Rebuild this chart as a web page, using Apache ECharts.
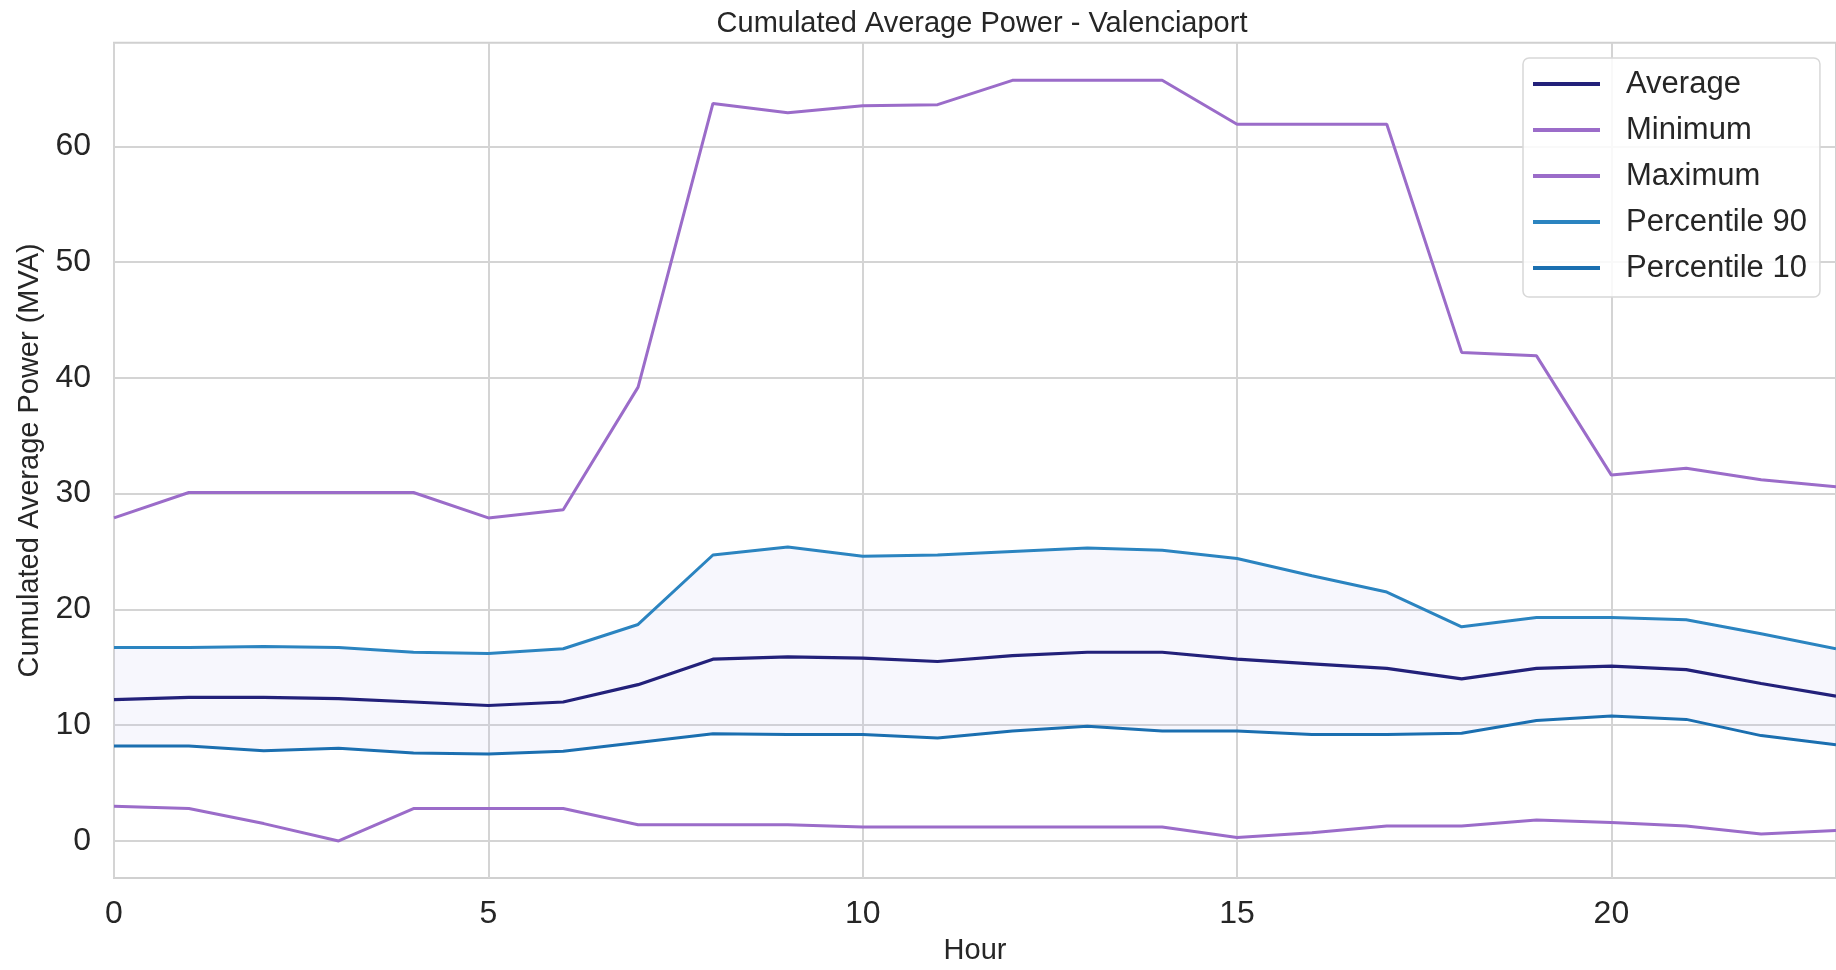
<!DOCTYPE html>
<html>
<head>
<meta charset="utf-8">
<script src="https://cdn.jsdelivr.net/npm/echarts@6/dist/echarts.min.js"></script>
<style>html,body{margin:0;padding:0;background:#fff}#c{width:1836px;height:970px}</style>
</head>
<body>
<div id="c"></div>
<script>
const hours = ['0','1','2','3','4','5','6','7','8','9','10','11','12','13','14','15','16','17','18','19','20','21','22','23'];
const average = [12.2,12.4,12.4,12.3,12.0,11.7,12.0,13.5,15.7,15.9,15.8,15.5,16.0,16.3,16.3,15.7,15.3,14.9,14.0,14.9,15.1,14.8,13.6,12.5];
const maximum = [27.9,30.1,30.1,30.1,30.1,27.9,28.6,39.2,63.7,62.9,63.5,63.6,65.7,65.7,65.7,61.9,61.9,61.9,42.2,41.9,31.6,32.2,31.2,30.6];
const minimum = [3.0,2.8,1.5,0.0,2.8,2.8,2.8,1.4,1.4,1.4,1.2,1.2,1.2,1.2,1.2,0.3,0.7,1.3,1.3,1.8,1.6,1.3,0.6,0.9];
const p90 = [16.7,16.7,16.8,16.7,16.3,16.2,16.6,18.7,24.7,25.4,24.6,24.7,25.0,25.3,25.1,24.4,22.9,21.5,18.5,19.3,19.3,19.1,17.9,16.6];
const p10 = [8.2,8.2,7.8,8.0,7.6,7.5,7.75,8.5,9.25,9.2,9.2,8.9,9.5,9.9,9.5,9.5,9.2,9.2,9.3,10.4,10.8,10.5,9.1,8.3];
const yTicks = [0,10,20,30,40,50,60];
const xTickEvery = 5;

const FONT = 'Liberation Sans, Arial, sans-serif';
const band = p90.map((v,i)=>+(v - p10[i]).toFixed(3));

const chart = echarts.init(document.getElementById('c'), null, {renderer:'canvas'});
chart.setOption({
  animation: false,
  backgroundColor: '#ffffff',
  textStyle: {fontFamily: FONT},
  title: {
    text: 'Cumulated Average Power - Valenciaport',
    left: 977, top: 4, textAlign: 'center',
    textStyle: {fontFamily: FONT, fontSize: 29, fontWeight: 'normal', color: '#262626'}
  },
  grid: {left: 114, right: -2, top: 42.7, bottom: 970-882.7, show: true, borderColor: '#d0d0d0', borderWidth: 2, backgroundColor: 'transparent'},
  legend: {
    orient: 'vertical', left: 1523, top: 58,
    data: ['Average','Minimum','Maximum','Percentile 90','Percentile 10'],
    icon: 'rect',
    itemWidth: 67, itemHeight: 4, itemGap: 10,
    padding: [8, 13, 11, 10],
    backgroundColor: 'rgba(255,255,255,0.85)', borderColor: '#d8d8d8', borderWidth: 1.5, borderRadius: 6,
    textStyle: {fontFamily: FONT, fontSize: 31, color: '#262626', lineHeight: 36, padding: [0,0,0,21]}
  },
  xAxis: {
    type: 'category', data: hours, boundaryGap: false,
    name: 'Hour', nameLocation: 'middle', nameGap: 58,
    nameTextStyle: {fontFamily: FONT, fontSize: 29, color: '#262626'},
    axisLine: {show: false}, axisTick: {show: false, interval: xTickEvery - 1},
    axisLabel: {fontFamily: FONT, fontSize: 32, color: '#262626', margin: 20, interval: xTickEvery - 1},
    splitLine: {show: true, interval: xTickEvery - 1, lineStyle: {color: '#d4d4d4', width: 2}}
  },
  yAxis: {
    type: 'value', min: -3.2, max: 68.95,
    name: 'Cumulated Average Power (MVA)', nameLocation: 'middle', nameGap: 70,
    nameTextStyle: {fontFamily: FONT, fontSize: 29, color: '#262626'},
    axisLine: {show: false},
    axisTick: {show: false, customValues: yTicks},
    axisLabel: {fontFamily: FONT, fontSize: 32, color: '#262626', margin: 23, customValues: yTicks},
    splitLine: {show: true, lineStyle: {color: '#d4d4d4', width: 2}}
  },
  series: [
    {name: 'bandBase', type: 'line', stack: 'band', data: p10, symbol: 'none', silent: true,
     lineStyle: {opacity: 0}, z: 1},
    {name: 'band', type: 'line', stack: 'band', data: band, symbol: 'none', silent: true,
     lineStyle: {opacity: 0}, areaStyle: {color: 'rgba(190,195,240,0.18)'}, z: 1},
    {name: 'Average', type: 'line', data: average, symbol: 'none', lineStyle: {color: '#23217a', width: 3.2}, itemStyle: {color: '#23217a'}, z: 5},
    {name: 'Minimum', type: 'line', data: maximum, symbol: 'none', lineStyle: {color: '#9b6cc9', width: 3}, itemStyle: {color: '#9b6cc9'}, z: 4},
    {name: 'Maximum', type: 'line', data: minimum, symbol: 'none', lineStyle: {color: '#9b6cc9', width: 3}, itemStyle: {color: '#9b6cc9'}, z: 4},
    {name: 'Percentile 90', type: 'line', data: p90, symbol: 'none', lineStyle: {color: '#2b84c0', width: 3}, itemStyle: {color: '#2b84c0'}, z: 4},
    {name: 'Percentile 10', type: 'line', data: p10, symbol: 'none', lineStyle: {color: '#1b6fb0', width: 3}, itemStyle: {color: '#1b6fb0'}, z: 4}
  ]
});
</script>
</body>
</html>
